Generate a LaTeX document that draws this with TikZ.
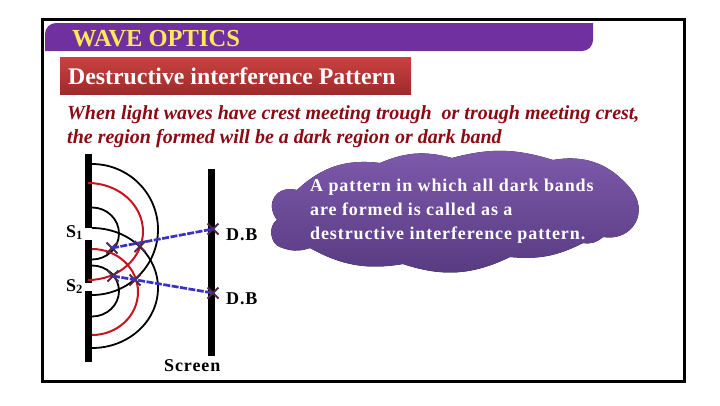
\documentclass[tikz,border=0pt]{standalone}
\usepackage{fontspec}
\usepackage{tikz}
\usepackage{xcolor}
\setmainfont{Liberation Serif}
\usetikzlibrary{shapes.misc}
\definecolor{bandviolet}{HTML}{7030A0}
\definecolor{boxtop}{HTML}{C84242}
\definecolor{boxlow}{HTML}{A02A2A}
\definecolor{cloudtop}{HTML}{7E5AAC}
\definecolor{cloudlow}{HTML}{573A80}
\definecolor{crestred}{HTML}{C8141E}
\definecolor{darkblue}{HTML}{3A32C0}
\definecolor{markbrown}{HTML}{4E2A48}
\definecolor{textred}{HTML}{8C0A14}
\definecolor{titleyellow}{HTML}{FFE95A}
\tikzset{
	barrier/.style={fill=black,draw=none,minimum width=7pt,inner sep=0pt,anchor=north},
	wavefront/.style={line width=1.8pt,draw=black},
	crestfront/.style={line width=2pt,draw=crestred},
	dbmark/.style={cross out,draw=markbrown,line width=2pt,minimum size=9pt,inner sep=0pt},
	dbline/.style={draw=darkblue,line width=2.7pt,dash pattern=on 7pt off 1.5pt},
	sidelabel/.style={anchor=base west,font=\bfseries\fontsize{18}{18}\selectfont\addfontfeature{LetterSpace=5},inner sep=0pt},
	cloudline/.style={anchor=base west,text=white,font=\bfseries\fontsize{18}{18}\selectfont\addfontfeature{LetterSpace=5},inner sep=0pt},
	italicline/.style={anchor=base west,text=textred,font=\bfseries\itshape\fontsize{20}{20}\selectfont,inner sep=0pt}
}
\begin{document}
\begin{tikzpicture}[x=1pt,y=-1pt]
	\useasboundingbox (0,0) rectangle (720,405);
	\draw [line width=3pt] (42.5,19.5) rectangle (684,381.5);

	% title band and red box
	\fill [bandviolet] (45,51) -- (45,34) arc [start angle=180,end angle=270,radius=11] -- (593,23) -- (593,40) arc [start angle=0,end angle=90,radius=11] -- cycle;
	\node (wavetitle) [anchor=base west,inner sep=0pt,text=titleyellow,font=\bfseries\fontsize{24.5}{24.5}\selectfont] at (72,46) {WAVE OPTICS};
	\node (patternbox) [anchor=north west,inner sep=0pt,minimum width=351pt,minimum height=37pt,top color=boxtop,bottom color=boxlow] at (60,57) {};
	\node (patternlabel) [anchor=base west,inner sep=0pt,text=white,font=\bfseries\fontsize{23.8}{23.8}\selectfont] at (68,84) {Destructive interference Pattern};

	\node (crestline) [italicline] at (67,119) {When light waves have crest meeting trough\ \ or trough meeting crest,};
	\node (darkline) [italicline] at (67,143) {the region formed will be a dark region or dark band};

	% slits and screen
	\node (slittop) [barrier,minimum height=74pt] at (88.5,154) {};
	\node (slitmid) [barrier,minimum height=43pt] at (88.5,240) {};
	\node (slitlow) [barrier,minimum height=71pt] at (88.5,291) {};
	\node (screenbar) [barrier,minimum height=187pt] at (211.5,169) {};

	% wave fronts
	\draw [wavefront] (92,164) arc [start angle=-90,end angle=90,x radius=66,y radius=65.5];
	\draw [crestfront] (88,183) arc [start angle=-90,end angle=90,x radius=55,y radius=48.5];
	\draw [wavefront] (92,207.5) arc [start angle=-90,end angle=90,x radius=27,y radius=26];
	\draw [wavefront] (92,228) arc [start angle=-90,end angle=90,x radius=66,y radius=60];
	\draw [crestfront] (92,249) arc [start angle=-90,end angle=90,x radius=46,y radius=43];
	\draw [wavefront] (92,265.5) arc [start angle=-90,end angle=90,x radius=27,y radius=25.5];

	% dark band points
	\node (firstfar) [dbmark] at (213,229) {};
	\node (firstnear) [dbmark] at (112,248) {};
	\node (firstmid) [dbmark] at (140,246.5) {};
	\node (secondfar) [dbmark] at (213,293) {};
	\node (secondnear) [dbmark] at (113,276) {};
	\node (secondmid) [dbmark] at (135,280) {};
	\draw [dbline] (firstnear.center) -- (firstfar.center);
	\draw [dbline] (secondnear.center) -- (secondfar.center);

	\node (sone) [sidelabel] at (66,237) {S\textsubscript{1}};
	\node (stwo) [sidelabel] at (66,291) {S\textsubscript{2}};
	\node (dbone) [sidelabel] at (226,240) {D.B};
	\node (dbtwo) [sidelabel] at (226,304) {D.B};
	\node (screenlabel) [sidelabel] at (164,371) {Screen};

	% cloud
	\fill [top color=cloudtop,bottom color=cloudlow]
		(277,220) to [bend left=70,looseness=1.5] (297,190) to [bend left=25] (380,163)
		to [bend left=19] (452,158) to [bend left=16] (553,160)
		to [bend left=30] (630,188) to [bend left=70,looseness=1.4] (603,237)
		to [bend left=25] (583,243) to [bend left=16] (510,257) to [bend left=22] (403,264)
		to [bend left=19] (310,248) to [bend left=20] (280,247) to [bend left=65] cycle;
	\node (cloudone) [cloudline] at (310,191) {A pattern in which all dark bands};
	\node (cloudtwo) [cloudline] at (310,215) {are formed is called as a};
	\node (cloudthree) [cloudline] at (310,239) {destructive interference pattern.};
\end{tikzpicture}
\end{document}
